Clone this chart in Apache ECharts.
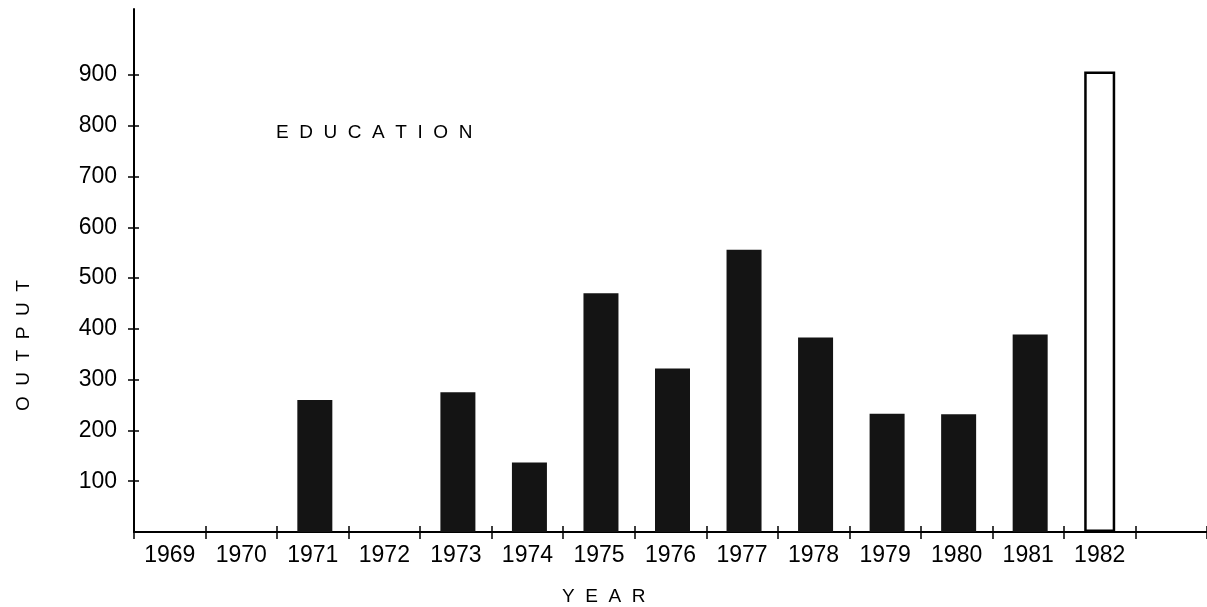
<!DOCTYPE html>
<html>

<head>
    <script src="https://cdn.jsdelivr.net/npm/echarts@6/dist/echarts.min.js"></script>
</head>

<body>
    <div id="chart"></div>
</body>
<style>
    body {
        margin: 0;
        background: #fff;
    }

    #chart {
        width: 1207px;
        height: 607px;
    }
</style>
<script>
    const years = ['1969', '1970', '1971', '1972', '1973', '1974', '1975', '1976', '1977', '1978', '1979', '1980', '1981', '1982', '']
    // '-' = no bar drawn for that year
    const output = ['-', '-', 260, '-', 275, 137, 470, 322, 556, 383, 233, 232, 389, '-', '-']
    const output1982 = ['-', '-', '-', '-', '-', '-', '-', '-', '-', '-', '-', '-', '-', 907, '-']
    const yTicks = [100, 200, 300, 400, 500, 600, 700, 800, 900]

    const chart = echarts.init(document.getElementById('chart'))
    const font = 'Liberation Sans, Arial, sans-serif'

    let option = {
        animation: false,
        grid: {
            left: 134,
            top: 9,
            bottom: 75,
            right: -14
        },
        graphic: [
            {
                type: 'text', left: 276, top: 116,
                style: { text: 'E  D  U  C  A  T  I  O  N', font: '19px ' + font, fill: '#000' }
            },
            {
                type: 'text', x: 7, y: 411, rotation: Math.PI / 2,
                style: { text: 'O  U  T  P  U  T', font: '19px ' + font, fill: '#000' }
            },
            {
                type: 'text', left: 562, top: 580,
                style: { text: 'Y  E  A  R', font: '19px ' + font, fill: '#000' }
            }
        ],
        xAxis: [
            {
                type: 'category',
                data: years,
                axisLine: { lineStyle: { color: '#000', width: 2 } },
                axisTick: { show: true, length: 7, lineStyle: { color: '#000', width: 1.5 } },
                axisLabel: { color: '#000', fontSize: 23, fontFamily: font, margin: 4 }
            },
            {
                type: 'category',
                data: years,
                position: 'bottom',
                axisLine: { show: false },
                axisTick: { show: true, inside: true, length: 6, lineStyle: { color: '#000', width: 1.5 } },
                axisLabel: { show: false }
            }
        ],
        yAxis: [
            {
                type: 'value',
                min: 0,
                max: 1030,
                interval: 100,
                splitLine: { show: false },
                axisLine: { show: true, lineStyle: { color: '#000', width: 2 } },
                axisTick: { show: true, length: 6, customValues: yTicks, lineStyle: { color: '#000', width: 1.5 } },
                axisLabel: {
                    color: '#000', fontSize: 23, fontFamily: font, margin: 17,
                    padding: [0, 0, 9, 0],
                    customValues: yTicks
                }
            },
            {
                type: 'value',
                min: 0,
                max: 1030,
                interval: 100,
                position: 'left',
                splitLine: { show: false },
                axisLine: { show: false },
                axisTick: { show: true, inside: true, length: 5, customValues: yTicks, lineStyle: { color: '#000', width: 1.5 } },
                axisLabel: { show: false }
            }
        ],
        series: [
            {
                type: 'bar',
                data: output,
                barWidth: 35,
                barGap: '-100%',
                itemStyle: { color: '#141414' }
            },
            {
                type: 'bar',
                data: output1982,
                barWidth: 31,
                itemStyle: { color: '#fff', borderColor: '#000', borderWidth: 2.5 }
            }
        ]
    }
    chart.setOption(option)
</script>

</html>
